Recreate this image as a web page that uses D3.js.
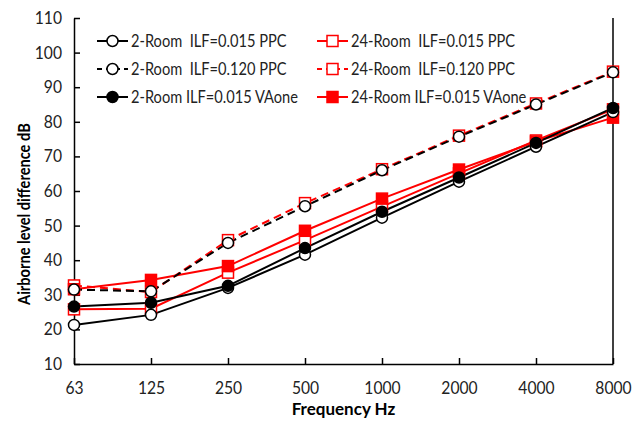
<!DOCTYPE html>
<html>
<head>
<meta charset="utf-8">
<script src="https://cdn.jsdelivr.net/npm/d3@7"></script>
<style>
  body { margin: 0; background: #fff; }
  svg { display: block; }
  text { font-family: Lato, "Open Sans", sans-serif; }
</style>
</head>
<body>
<svg id="chart" width="642" height="425"></svg>
<script>
// Airborne level difference vs frequency, 2-room vs 24-room models

var freqs = ["63", "125", "250", "500", "1000", "2000", "4000", "8000"];
var yTicks = [10, 20, 30, 40, 50, 60, 70, 80, 90, 100, 110];

var room2Ilf015Ppc  = [21.3, 24.2, 32.0, 41.6, 52.3, 62.7, 72.8, 82.8];
var room2Ilf120Ppc  = [31.5, 31.0, 45.0, 55.6, 66.0, 75.7, 85.0, 94.3];
var room2Ilf015VA   = [26.6, 27.7, 32.6, 43.5, 54.0, 63.9, 73.9, 84.0];
var room24Ilf015Ppc = [25.8, 26.0, 36.4, 45.8, 55.5, 65.1, 74.6, 83.6];
var room24Ilf120Ppc = [32.7, 30.8, 45.8, 56.5, 66.3, 76.0, 85.3, 94.5];
var room24Ilf015VA  = [31.6, 34.3, 38.3, 48.5, 57.8, 66.2, 74.3, 81.2];

var series = [
  {name: "24-Room  ILF=0.015 PPC",  vals: room24Ilf015Ppc, color: "#ff0000", dash: null,  marker: "square", fill: "#fff"},
  {name: "24-Room  ILF=0.120 PPC",  vals: room24Ilf120Ppc, color: "#ff0000", dash: "8,5", marker: "square", fill: "#fff"},
  {name: "24-Room ILF=0.015 VAone", vals: room24Ilf015VA,  color: "#ff0000", dash: null,  marker: "square", fill: "#ff0000"},
  {name: "2-Room  ILF=0.015 PPC",   vals: room2Ilf015Ppc,  color: "#000000", dash: null,  marker: "circle", fill: "#fff"},
  {name: "2-Room  ILF=0.120 PPC",   vals: room2Ilf120Ppc,  color: "#000000", dash: "8,5", marker: "circle", fill: "#fff"},
  {name: "2-Room ILF=0.015 VAone",  vals: room2Ilf015VA,   color: "#000000", dash: null,  marker: "circle", fill: "#000"}
];

var svg = d3.select("#chart");
var margin = {left: 74, right: 29, top: 18, bottom: 61};
var W = 642, H = 425;

var x = d3.scalePoint().domain(freqs).range([margin.left, W - margin.right]);
var y = d3.scaleLinear().domain([10, 110]).range([H - margin.bottom, margin.top]);

// squeeze text a bit, the original font is narrower than Lato
function condense(sel, f){
  sel.each(function(){
    var w = this.getComputedTextLength();
    d3.select(this).attr("textLength", w * f).attr("lengthAdjust", "spacingAndGlyphs");
  });
}

// axes
var xAxis = svg.append("g")
  .attr("transform", "translate(0," + (H - margin.bottom) + ")")
  .call(d3.axisBottom(x).tickSizeInner(-6).tickSizeOuter(0).tickPadding(18));
var yAxis = svg.append("g")
  .attr("transform", "translate(" + margin.left + ",0)")
  .call(d3.axisLeft(y).tickValues(yTicks).tickSizeInner(-6).tickSizeOuter(0).tickPadding(12));

[xAxis, yAxis].forEach(function(a){
  a.selectAll("path, line").attr("stroke", "#000").attr("stroke-width", 1.5);
  a.selectAll("text").attr("font-size", "17px").attr("fill", "#222")
    .style("font-family", "Lato, sans-serif");
  condense(a.selectAll("text"), 0.92);
});

// right border
svg.append("line")
  .attr("x1", W - margin.right).attr("x2", W - margin.right)
  .attr("y1", y(110)).attr("y2", y(10))
  .attr("stroke", "#000").attr("stroke-width", 1.5);

// axis titles
svg.append("text")
  .attr("x", (margin.left + W - margin.right) / 2).attr("y", 415)
  .attr("text-anchor", "middle").attr("font-size", "17px").attr("font-weight", "bold")
  .text("Frequency Hz");
svg.append("text")
  .attr("transform", "translate(30,305) rotate(-90)")
  .attr("text-anchor", "start").attr("font-size", "17px").attr("font-weight", "bold")
  .text("Airborne level difference dB")
  .call(condense, 0.86);

function drawMarker(g, type, cx, cy, color, fill){
  if (type === "circle") {
    g.append("circle").attr("cx", cx).attr("cy", cy).attr("r", 5.5)
      .attr("fill", fill).attr("stroke", color).attr("stroke-width", 1.5);
  } else {
    g.append("rect").attr("x", cx - 5.5).attr("y", cy - 5.5).attr("width", 11).attr("height", 11)
      .attr("fill", fill).attr("stroke", color).attr("stroke-width", 1.5);
  }
}

var line = d3.line()
  .x(function(d, i){ return x(freqs[i]); })
  .y(function(d){ return y(d); });

var plot = svg.append("g");
series.forEach(function(s){
  plot.append("path").datum(s.vals)
    .attr("d", line)
    .attr("fill", "none")
    .attr("stroke", s.color)
    .attr("stroke-width", 2)
    .attr("stroke-dasharray", s.dash);
});
series.forEach(function(s){
  var g = plot.append("g");
  s.vals.forEach(function(v, i){
    drawMarker(g, s.marker, x(freqs[i]), y(v), s.color, s.fill);
  });
});

// legend, 2 columns x 3 rows
var legendOrder = [3, 4, 5, 0, 1, 2];
var legend = svg.append("g");
legendOrder.forEach(function(si, k){
  var s = series[si];
  var col = Math.floor(k / 3), row = k % 3;
  var lx = col === 0 ? 97 : 317;
  var ly = 41 + row * 28;
  legend.append("line")
    .attr("x1", lx).attr("x2", lx + 31).attr("y1", ly).attr("y2", ly)
    .attr("stroke", s.color).attr("stroke-width", 2)
    .attr("stroke-dasharray", s.dash ? "5,4" : null);
  drawMarker(legend, s.marker, lx + 15.5, ly, s.color, s.fill);
  legend.append("text")
    .attr("x", lx + 34).attr("y", ly + 6)
    .attr("font-size", "17px").attr("fill", "#222")
    .style("white-space", "pre")
    .text(s.name)
    .call(condense, 0.86);
});
</script>
</body>
</html>
